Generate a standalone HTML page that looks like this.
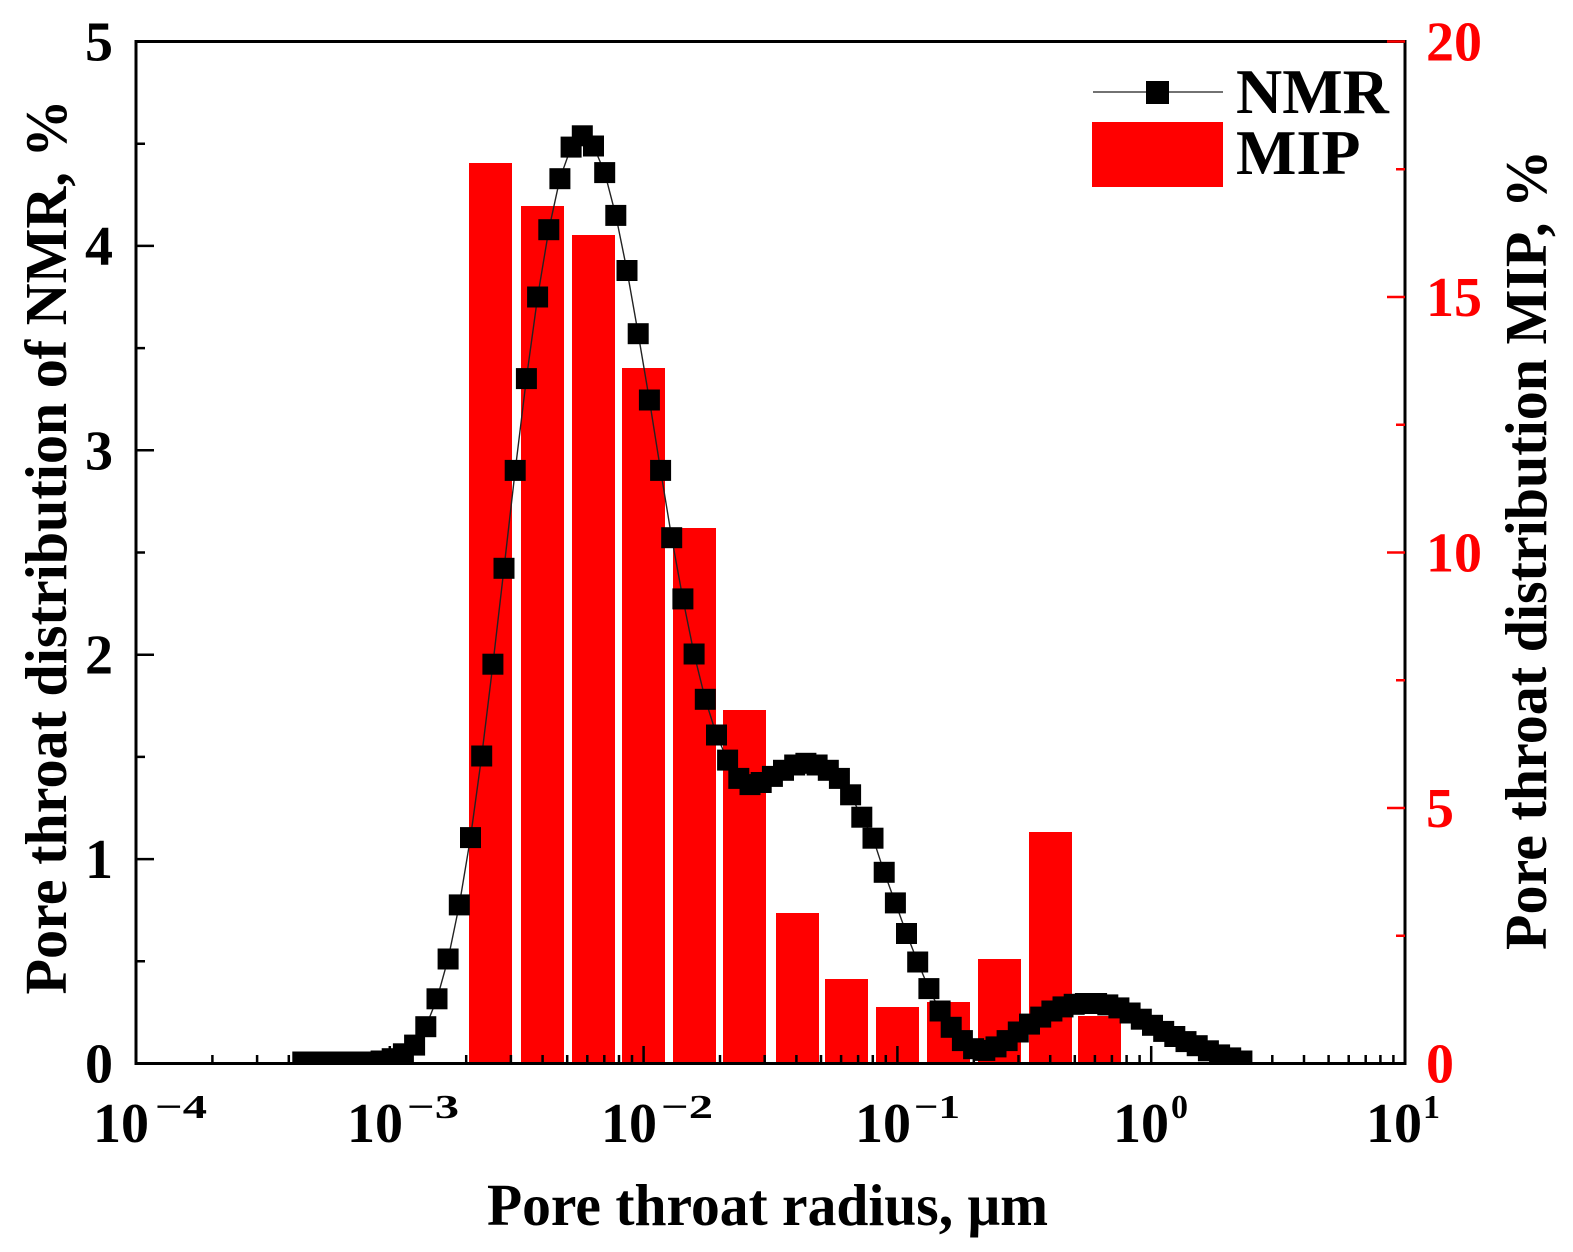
<!DOCTYPE html>
<html>
<head>
<meta charset="utf-8">
<style>
html,body{margin:0;padding:0;background:#fff;}
svg{display:block;}
</style>
</head>
<body>
<svg width="1573" height="1252" viewBox="0 0 1573 1252" xmlns="http://www.w3.org/2000/svg" font-family="'Liberation Serif', 'Times New Roman', serif" font-weight="bold">
<defs>
<marker id="sq" markerWidth="21" markerHeight="21" refX="10.5" refY="10.5" markerUnits="userSpaceOnUse" overflow="visible">
<rect x="0" y="0" width="21" height="21" fill="#000"/>
</marker>
<clipPath id="clip"><rect x="136" y="41" width="1269" height="1021"/></clipPath>
</defs>
<rect x="0" y="0" width="1573" height="1252" fill="#fff"/>

<!-- MIP bars -->
<g fill="#ff0000">
<rect x="469" y="163" width="43" height="900"/>
<rect x="521" y="206" width="43" height="857"/>
<rect x="572" y="235" width="43" height="828"/>
<rect x="622" y="368" width="43" height="695"/>
<rect x="673" y="528" width="43" height="535"/>
<rect x="723" y="710" width="43" height="353"/>
<rect x="776" y="913" width="43" height="150"/>
<rect x="825" y="979" width="43" height="84"/>
<rect x="876" y="1007" width="43" height="56"/>
<rect x="927" y="1002" width="43" height="61"/>
<rect x="978" y="959" width="43" height="104"/>
<rect x="1029" y="832" width="43" height="231"/>
<rect x="1078" y="1016" width="43" height="47"/>
</g>

<!-- frame -->
<rect x="136" y="41.5" width="1269" height="1022" fill="none" stroke="#000" stroke-width="3"/>

<!-- left ticks -->
<path stroke="#000" stroke-width="2.5" fill="none" d="
M136 1063.5H154 M136 859.1H154 M136 654.7H154 M136 450.3H154 M136 245.9H154 M136 41.5H154
M136 961.3H145 M136 756.9H145 M136 552.5H145 M136 348.1H145 M136 143.7H145"/>

<!-- right ticks (red) -->
<path stroke="#ff0000" stroke-width="2.5" fill="none" d="
M1405 808H1387 M1405 552.5H1387 M1405 297H1387 M1405 41.5H1387
M1405 935.8H1396 M1405 680.3H1396 M1405 424.8H1396 M1405 169.3H1396"/>

<!-- bottom ticks -->
<path stroke="#000" stroke-width="2.5" fill="none" d="
M389.8 1063V1046 M643.6 1063V1046 M897.4 1063V1046 M1151.2 1063V1046
M212.4 1063V1055 M257.1 1063V1055 M288.8 1063V1055 M313.4 1063V1055 M333.5 1063V1055 M350.5 1063V1055 M365.2 1063V1055 M378.2 1063V1055
M466.2 1063V1055 M510.9 1063V1055 M542.6 1063V1055 M567.2 1063V1055 M587.3 1063V1055 M604.3 1063V1055 M619.0 1063V1055 M632.0 1063V1055
M720.0 1063V1055 M764.7 1063V1055 M796.4 1063V1055 M821.0 1063V1055 M841.1 1063V1055 M858.1 1063V1055 M872.8 1063V1055 M885.8 1063V1055
M973.8 1063V1055 M1018.5 1063V1055 M1050.2 1063V1055 M1074.8 1063V1055 M1094.9 1063V1055 M1111.9 1063V1055 M1126.6 1063V1055 M1139.6 1063V1055
M1227.6 1063V1055 M1272.3 1063V1055 M1304.0 1063V1055 M1328.6 1063V1055 M1348.7 1063V1055 M1365.7 1063V1055 M1380.4 1063V1055 M1393.4 1063V1055"/>

<!-- NMR series -->
<g clip-path="url(#clip)">
<polyline fill="none" stroke="#222" stroke-width="1.4" marker-start="url(#sq)" marker-mid="url(#sq)" marker-end="url(#sq)" points="
302.8,1062 314.0,1062 325.2,1062 336.4,1062 347.5,1062 358.7,1062 369.9,1062 381.1,1061.0 392.2,1058.7 403.4,1053.8
414.6,1045.1 425.8,1026.7 437.0,998.8 448.1,959.0 459.3,904.9 470.5,837.6 481.7,756.0 492.9,664.2 504.0,568.3 515.2,470.4
526.4,378.6 537.6,297.0 548.8,229.7 559.9,178.7 571.1,147.1 582.3,135.8 593.5,146.0 604.7,172.6 615.8,215.4 627.0,270.5
638.2,333.7 649.4,400.0 660.6,470.4 671.7,537.7 682.9,598.9 694.1,654.0 705.3,699.3 716.5,735.0 727.6,760.1 738.8,778.4
750.0,784.6 761.2,782.5 772.4,776.4 783.5,770.3 794.7,765.0 805.9,763.3 817.1,765.0 828.3,770.3 839.4,778.4 850.6,794.8
861.8,817.2 873.0,838.2 884.2,872.3 895.4,902.9 906.5,933.5 917.7,962.0 928.9,988.6 940.1,1011.0 951.2,1027.3 962.4,1040.6
973.6,1048.7 984.8,1050.4 996.0,1046.9 1007.1,1040.6 1018.3,1032.0 1029.5,1024.1 1040.7,1017.1 1051.9,1011.0 1063.0,1006.9 1074.2,1004.3
1085.4,1003.5 1096.6,1003.5 1107.8,1004.9 1118.9,1007.9 1130.1,1013.0 1141.3,1019.2 1152.5,1025.3 1163.7,1031.4 1174.8,1036.5 1186.0,1041.6
1197.2,1045.7 1208.4,1050.8 1219.6,1054.9 1230.7,1057.9 1241.9,1061.0"/>
</g>

<!-- left tick labels -->
<g font-size="56" fill="#000" text-anchor="end">
<text x="113" y="1082.5">0</text>
<text x="113" y="878">1</text>
<text x="113" y="673.7">2</text>
<text x="113" y="469.3">3</text>
<text x="113" y="264.9">4</text>
<text x="113" y="60.5">5</text>
</g>

<!-- right tick labels -->
<g font-size="56" fill="#ff0000">
<text x="1426" y="1082.5">0</text>
<text x="1426" y="827">5</text>
<text x="1426" y="571.5">10</text>
<text x="1426" y="316">15</text>
<text x="1426" y="60.5">20</text>
</g>

<!-- bottom tick labels -->
<g fill="#000">
<text x="93" y="1142" font-size="56">10</text>
<text x="155" y="1118" font-size="34" textLength="52" lengthAdjust="spacingAndGlyphs">−4</text>
<text x="347" y="1142" font-size="56">10</text>
<text x="407" y="1118" font-size="34" textLength="52" lengthAdjust="spacingAndGlyphs">−3</text>
<text x="601" y="1142" font-size="56">10</text>
<text x="661" y="1118" font-size="34" textLength="52" lengthAdjust="spacingAndGlyphs">−2</text>
<text x="855" y="1142" font-size="56">10</text>
<text x="914" y="1118" font-size="34" textLength="46" lengthAdjust="spacingAndGlyphs">−1</text>
<text x="1113" y="1142" font-size="56">10</text>
<text x="1171" y="1118" font-size="34">0</text>
<text x="1366" y="1142" font-size="56">10</text>
<text x="1423" y="1118" font-size="34">1</text>
</g>

<!-- axis titles -->
<text x="767.5" y="1225" font-size="59" text-anchor="middle" fill="#000" textLength="561" lengthAdjust="spacingAndGlyphs">Pore throat radius, μm</text>
<text transform="translate(66,547) rotate(-90)" font-size="59" text-anchor="middle" fill="#000" textLength="895" lengthAdjust="spacingAndGlyphs">Pore throat distribution of NMR, %</text>
<text transform="translate(1546,550) rotate(-90)" font-size="59" text-anchor="middle" fill="#000" textLength="800" lengthAdjust="spacingAndGlyphs">Pore throat distribution MIP, %</text>

<!-- legend -->
<line x1="1093" y1="92" x2="1223" y2="92" stroke="#444" stroke-width="1.6"/>
<rect x="1146" y="81" width="23" height="23" fill="#000"/>
<rect x="1092" y="122" width="131" height="65" fill="#ff0000"/>
<text x="1236" y="113" font-size="64" fill="#000">NMR</text>
<text x="1236" y="174" font-size="64" fill="#000">MIP</text>
</svg>
</body>
</html>
